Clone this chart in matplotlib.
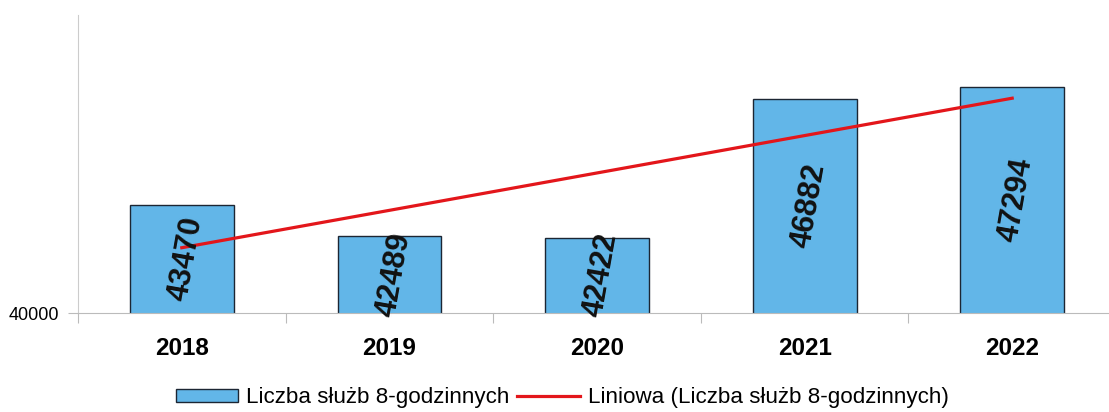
import numpy as np
import matplotlib.pyplot as plt

plt.rcParams['font.family'] = ['Liberation Sans', 'DejaVu Sans']

# dane z wykresu
years = ['2018', '2019', '2020', '2021', '2022']
values = [43470, 42489, 42422, 46882, 47294]
series_name = 'Liczba służb 8-godzinnych'
trend_name = 'Liniowa (Liczba służb 8-godzinnych)'

fig = plt.figure(figsize=(11.09, 4.12), dpi=100)
# os wychodzi troche poza prawa krawedz (jak w skanie)
ax = fig.add_axes([78/1109, 99/412, 1038/1109, 298/412])

x = np.arange(len(years))
bars = ax.bar(x, values, width=0.5, bottom=0, color='#62b6e8', edgecolor='#1c2633',
              linewidth=1.0, label=series_name, zorder=2)

# linia trendu (regresja liniowa)
a, b = np.polyfit(x, values, 1)
line, = ax.plot(x, a*x + b, color='#e3161b', linewidth=2.3, label=trend_name, zorder=3)

# etykiety wartosci w slupkach
for xi, v in zip(x, values):
    ax.text(xi + 0.02, (40000 + v) / 2, str(v), rotation=80, ha='center', va='center',
            fontsize=22, fontweight='bold', color='#111111', zorder=4,
            rotation_mode='anchor')

ax.set_xlim(-0.5, 4.5)
ax.set_ylim(40000, 49600)
ax.set_yticks([40000])
ax.set_yticklabels(['40000'], fontsize=13)
ax.tick_params(axis='y', length=7, width=0.8, color='#bbbbbb', pad=6.5)

ax.set_xticks(x)
ax.set_xticklabels(years, fontsize=17.5, fontweight='bold')
ax.set_xticks(np.arange(-0.5, 5, 1), minor=True)
ax.tick_params(axis='x', which='major', length=0, pad=17)
ax.tick_params(axis='x', which='minor', length=7, width=0.8, color='#bbbbbb', direction='out')

for s in ['top', 'right']:
    ax.spines[s].set_visible(False)
ax.spines['left'].set_color('#cccccc')
ax.spines['bottom'].set_color('#bbbbbb')
ax.spines['left'].set_linewidth(0.8)
ax.spines['bottom'].set_linewidth(0.8)

fig.legend([bars, line], [series_name, trend_name], loc='center',
           bbox_to_anchor=(562/1109, 1 - 398/412), ncol=2,
           frameon=False, fontsize=16.1, handlelength=2.8, handleheight=0.5,
           handletextpad=0.35, columnspacing=0.35)

plt.savefig('out.png', dpi=100)
